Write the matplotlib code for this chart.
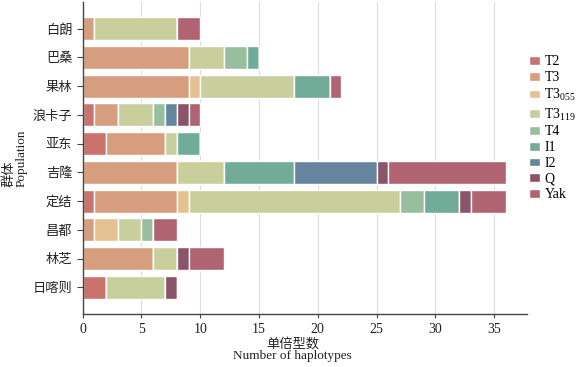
import numpy as np
import matplotlib
matplotlib.use('Agg')
from matplotlib import pyplot as plt

plt.rcParams['font.family'] = ['Liberation Serif', 'Noto Sans CJK SC']
plt.rcParams['mathtext.fontset'] = 'custom'
plt.rcParams['mathtext.rm'] = 'Liberation Serif'

# populations, top to bottom
populations = ['白朗', '巴桑', '果林', '浪卡子', '亚东', '吉隆', '定结', '昌都', '林芝', '日喀则']
series = ['T2', 'T3', 'T3$_\\mathrm{055}$', 'T3$_\\mathrm{119}$', 'T4', 'I1', 'I2', 'Q', 'Yak']
colors = ['#c8736e', '#d69e7e', '#e3c192', '#c8cf9c', '#97bf9f', '#72ab98', '#65849e', '#8b5468', '#b06472']

T2 = [0, 0, 0, 1, 2, 0, 1, 0, 0, 2]
T3 = [1, 9, 9, 2, 5, 8, 7, 1, 6, 0]
T3_055 = [0, 0, 1, 0, 0, 0, 1, 2, 0, 0]
T3_119 = [7, 3, 8, 3, 1, 4, 18, 2, 2, 5]
T4 = [0, 2, 0, 1, 0, 0, 2, 1, 0, 0]
I1 = [0, 1, 3, 0, 2, 6, 3, 0, 0, 0]
I2 = [0, 0, 0, 1, 0, 7, 0, 0, 0, 0]
Q = [0, 0, 0, 1, 0, 1, 1, 0, 1, 1]
Yak = [2, 0, 1, 1, 0, 10, 3, 2, 3, 0]

data = [T2, T3, T3_055, T3_119, T4, I1, I2, Q, Yak]

fig = plt.figure(figsize=(5.76, 3.67), dpi=100)
ax = fig.add_axes([0.1436, 0.1444, 0.7714, 0.850])

y = np.arange(len(populations))
left = np.zeros(len(populations))
for vals, name, c in zip(data, series, colors):
    vals = np.array(vals, dtype=float)
    ax.barh(y, vals, left=left, height=0.8, color=c, edgecolor='white',
            linewidth=1.0, label=name, zorder=2)
    left += vals

ax.set_yticks(y)
ax.set_yticklabels(populations, fontsize=9.5)
ax.set_ylim(9.93, -0.93)
ax.set_xlim(0, 37.8)
ax.set_xticks([0, 5, 10, 15, 20, 25, 30, 35])
ax.tick_params(axis='x', labelsize=10, length=3, color='#444444', labelcolor='#222222')
ax.tick_params(axis='y', length=4, color='#444444', labelcolor='#222222')

ax.grid(axis='x', color='#dddddd', linewidth=0.8, zorder=0)
ax.set_axisbelow(True)
for s in ['top', 'right']:
    ax.spines[s].set_visible(False)
for s in ['left', 'bottom']:
    ax.spines[s].set_color('#444444')
    ax.spines[s].set_linewidth(1.0)

ax.set_xlabel('单倍型数\nNumber of haplotypes', fontsize=9.5, linespacing=1.0, color='#222222')
ax.xaxis.set_label_coords(0.472, -0.075)
ax.set_ylabel('群体\nPopulation', fontsize=9.5, linespacing=1.0, color='#222222',
              multialignment='left')
ax.yaxis.set_label_coords(-0.123, 0.5)

leg = ax.legend(loc='center left', bbox_to_anchor=(1.0, 0.595), frameon=False,
                fontsize=10, handlelength=0.8, handleheight=0.6, handletextpad=0.3,
                labelspacing=0.2, borderaxespad=0.0, borderpad=0.15)

fig.savefig('out.png', dpi=100)
